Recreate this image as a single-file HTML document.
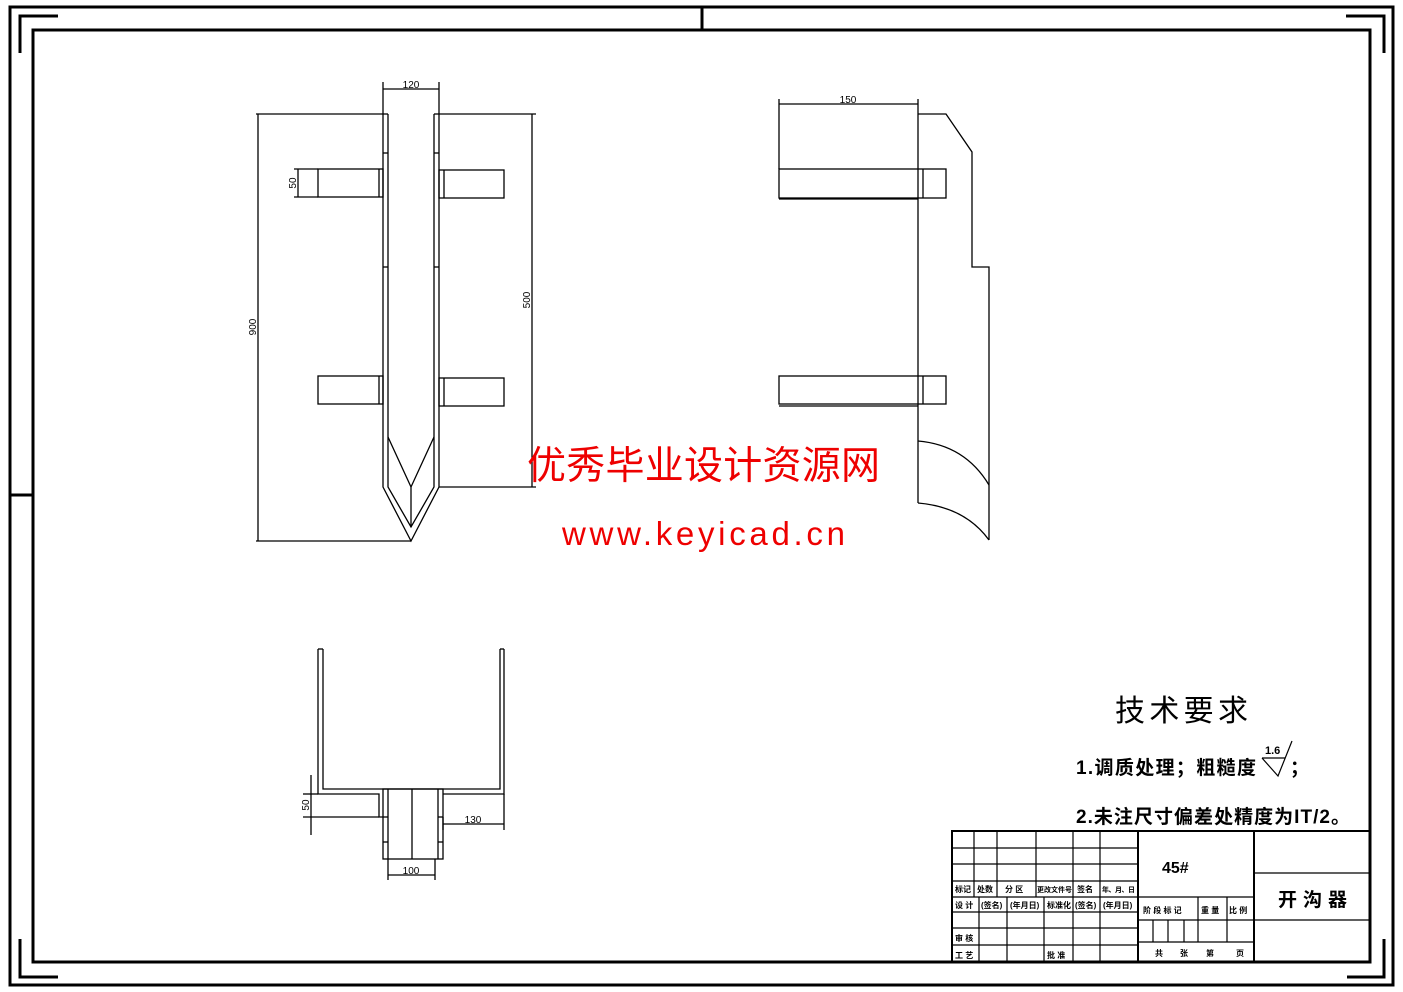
<!DOCTYPE html>
<html><head><meta charset="utf-8"><style>
html,body{margin:0;padding:0;background:#fff;}
svg{display:block;}
text{font-family:"Liberation Sans","Noto Sans CJK SC",sans-serif;}
</style></head><body>
<svg width="1403" height="992" viewBox="0 0 1403 992" xmlns="http://www.w3.org/2000/svg">
<rect width="1403" height="992" fill="#fff"/>
<rect x="10" y="7" width="1383" height="978" fill="none" stroke="#000" stroke-width="3"/>
<rect x="33" y="30" width="1337" height="932" fill="none" stroke="#000" stroke-width="3"/>
<g stroke="#000" stroke-width="3" fill="none">
<polyline points="20,53 20,16 58,16"/>
<polyline points="1346,16 1384,16 1384,53"/>
<polyline points="20,939 20,977 58,977"/>
<polyline points="1347,977 1384,977 1384,939"/>
<line x1="702" y1="7" x2="702" y2="30"/>
<line x1="10" y1="495" x2="33" y2="495"/>
</g>
<g stroke="#000" stroke-width="1.3" fill="none">
<polyline points="383,114 383,487 411,541 439,487 439,114"/>
<polyline points="388,114 388,487 411,527 434,487 434,114"/>
<line x1="383" y1="114" x2="388" y2="114"/><line x1="434" y1="114" x2="439" y2="114"/>
<line x1="383" y1="153" x2="388" y2="153"/><line x1="434" y1="153" x2="439" y2="153"/>
<line x1="383" y1="267" x2="388" y2="267"/><line x1="434" y1="267" x2="439" y2="267"/>
<polyline points="388,437 411,487 434,437"/>
<line x1="411" y1="487" x2="411" y2="527"/>
<rect x="318" y="169" width="65" height="28"/><line x1="379" y1="169" x2="379" y2="197"/>
<rect x="439" y="170" width="65" height="28"/><line x1="444" y1="170" x2="444" y2="198"/>
<rect x="318" y="376" width="65" height="28"/><line x1="379" y1="376" x2="379" y2="404"/>
<rect x="439" y="378" width="65" height="28"/><line x1="444" y1="378" x2="444" y2="406"/>
<line x1="383" y1="82" x2="383" y2="114"/><line x1="439" y1="82" x2="439" y2="114"/>
<line x1="383" y1="89" x2="439" y2="89"/>
<line x1="256" y1="114" x2="383" y2="114"/><line x1="256" y1="541" x2="411" y2="541"/>
<line x1="258" y1="114" x2="258" y2="541"/>
<line x1="439" y1="114" x2="536" y2="114"/><line x1="439" y1="487" x2="536" y2="487"/>
<line x1="532" y1="114" x2="532" y2="487"/>
<line x1="294" y1="169" x2="318" y2="169"/><line x1="294" y1="197" x2="318" y2="197"/>
<line x1="298" y1="169" x2="298" y2="197"/>
<line x1="779" y1="99" x2="779" y2="169"/><line x1="918" y1="99" x2="918" y2="114"/>
<line x1="779" y1="104" x2="918" y2="104"/>
<polyline points="918,114 946,114 972,152 972,267 989,267 989,540"/>
<line x1="918" y1="114" x2="918" y2="503"/>
<rect x="779" y="169" width="167" height="29"/><line x1="923" y1="169" x2="923" y2="198"/>
<rect x="779" y="376" width="167" height="28"/><line x1="923" y1="376" x2="923" y2="404"/>
<line x1="779" y1="199" x2="918" y2="199"/><line x1="779" y1="406" x2="918" y2="406"/>
<path d="M918,441 Q965,445 989,485"/>
<path d="M918,503 Q965,507 989,540"/>
<polyline points="318,649 318,794 379,794 379,817 383,817"/>
<polyline points="323,649 323,789 500,789 500,649"/>
<polyline points="504,649 504,794 443,794"/>
<line x1="318" y1="649" x2="323" y2="649"/><line x1="500" y1="649" x2="504" y2="649"/>
<rect x="383" y="789" width="60" height="70"/>
<line x1="388" y1="789" x2="388" y2="859"/><line x1="438" y1="789" x2="438" y2="859"/><line x1="412" y1="789" x2="412" y2="859"/>
<line x1="383" y1="817" x2="388" y2="817"/><line x1="438" y1="817" x2="443" y2="817"/>
<line x1="383" y1="842" x2="388" y2="842"/><line x1="438" y1="842" x2="443" y2="842"/>
<line x1="303" y1="817" x2="379" y2="817"/><line x1="303" y1="794" x2="318" y2="794"/>
<line x1="311" y1="775" x2="311" y2="835"/>
<line x1="504" y1="794" x2="504" y2="830"/><line x1="443" y1="817" x2="443" y2="830"/>
<line x1="443" y1="824" x2="504" y2="824"/>
<line x1="388" y1="859" x2="388" y2="880"/><line x1="435" y1="859" x2="435" y2="880"/>
<line x1="388" y1="875" x2="435" y2="875"/>
</g>
<g font-size="10" fill="#000" font-family="Liberation Sans Narrow, Liberation Sans, sans-serif">
<text x="411" y="88" text-anchor="middle">120</text>
<text x="848" y="103" text-anchor="middle">150</text>
<text transform="translate(256,327) rotate(-90)" text-anchor="middle">900</text>
<text transform="translate(530,300) rotate(-90)" text-anchor="middle">500</text>
<text transform="translate(296,183) rotate(-90)" text-anchor="middle">50</text>
<text transform="translate(309,805) rotate(-90)" text-anchor="middle">50</text>
<text x="473" y="823" text-anchor="middle">130</text>
<text x="411" y="874" text-anchor="middle">100</text>
</g>
<text x="527" y="479" font-size="39" fill="#e00" textLength="353" font-family="Liberation Serif, Noto Serif CJK SC, serif">优秀毕业设计资源网</text>
<text x="562" y="545" font-size="33" fill="#e00" textLength="283" font-family="Liberation Mono, monospace">www.keyicad.cn</text>
<text x="1115" y="721" font-size="30" fill="#000" textLength="133" font-family="Liberation Serif, Noto Serif CJK SC, serif">技术要求</text>
<text x="1076" y="774" font-size="19" font-weight="bold" fill="#000" textLength="180">1.调质处理；粗糙度</text>
<polyline points="1262,758 1278,776 1292,741" fill="none" stroke="#000" stroke-width="1.2"/>
<line x1="1262" y1="758" x2="1285" y2="758" stroke="#000" stroke-width="1.2"/>
<text x="1265" y="754" font-size="11" font-weight="bold">1.6</text>
<text x="1290" y="774" font-size="19" font-weight="bold">；</text>
<text x="1076" y="823" font-size="19" font-weight="bold" fill="#000" textLength="274">2.未注尺寸偏差处精度为IT/2。</text>
<g stroke="#000" stroke-width="1.2" fill="none">
<rect x="952" y="831" width="418" height="131" stroke-width="2"/>
<line x1="952" y1="848" x2="1138" y2="848"/><line x1="952" y1="864" x2="1138" y2="864"/>
<line x1="952" y1="881" x2="1138" y2="881"/><line x1="952" y1="897" x2="1254" y2="897"/>
<line x1="952" y1="912" x2="1138" y2="912"/><line x1="952" y1="928" x2="1138" y2="928"/>
<line x1="952" y1="945" x2="1138" y2="945"/>
<line x1="974" y1="831" x2="974" y2="897"/><line x1="997" y1="831" x2="997" y2="897"/>
<line x1="1036" y1="831" x2="1036" y2="897"/>
<line x1="1073" y1="831" x2="1073" y2="962"/><line x1="1100" y1="831" x2="1100" y2="962"/>
<line x1="1138" y1="831" x2="1138" y2="962" stroke-width="2"/>
<line x1="979" y1="897" x2="979" y2="962"/><line x1="1007" y1="897" x2="1007" y2="962"/>
<line x1="1044" y1="897" x2="1044" y2="962"/>
<line x1="1254" y1="831" x2="1254" y2="962" stroke-width="2"/>
<line x1="1138" y1="920" x2="1254" y2="920"/><line x1="1138" y1="942" x2="1254" y2="942"/>
<line x1="1198" y1="897" x2="1198" y2="942"/><line x1="1227" y1="897" x2="1227" y2="942"/>
<line x1="1153" y1="920" x2="1153" y2="942"/><line x1="1168" y1="920" x2="1168" y2="942"/>
<line x1="1184" y1="920" x2="1184" y2="942"/>
<line x1="1254" y1="873" x2="1370" y2="873"/><line x1="1254" y1="920" x2="1370" y2="920"/>
</g>
<g font-size="8" font-weight="bold" fill="#000">
<text x="955" y="892">标记</text><text x="977" y="892">处数</text><text x="1005" y="892">分 区</text>
<text x="1037" y="892" font-size="7">更改文件号</text><text x="1077" y="892">签名</text><text x="1102" y="892" font-size="7" textLength="33">年、月、日</text>
<text x="955" y="908">设 计</text><text x="981" y="908">(签名)</text><text x="1010" y="908">(年月日)</text>
<text x="1047" y="908">标准化</text><text x="1075" y="908">(签名)</text><text x="1103" y="908">(年月日)</text>
<text x="955" y="941">审 核</text><text x="955" y="958">工 艺</text><text x="1047" y="958">批 准</text>
<text x="1143" y="913">阶 段 标 记</text><text x="1201" y="913">重 量</text><text x="1229" y="913">比 例</text>
<text x="1155" y="956">共</text><text x="1180" y="956">张</text><text x="1206" y="956">第</text><text x="1236" y="956">页</text>
</g>
<text x="1162" y="873" font-size="16" font-weight="bold">45#</text>
<text x="1278" y="906" font-size="19" font-weight="bold" letter-spacing="6">开沟器</text>
</svg>
</body></html>
